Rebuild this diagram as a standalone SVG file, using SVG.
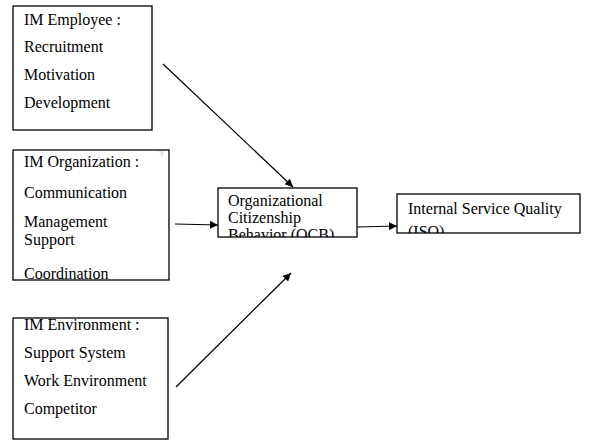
<svg xmlns="http://www.w3.org/2000/svg" width="596" height="441" viewBox="0 0 596 441">
  <style>
    .box { fill: #ffffff; stroke: #000000; stroke-width: 1.3; }
    text { font-family: 'Liberation Serif', 'Times New Roman', 'DejaVu Serif', Times, serif; font-size: 16px; fill: #000000; }
    .edge { stroke: #000000; stroke-width: 1.2; fill: none; marker-end: url(#head); }
  </style>
  <defs>
    <marker id="head" viewBox="0 0 10 10" refX="10" refY="5" markerWidth="8" markerHeight="8" markerUnits="userSpaceOnUse" orient="auto">
      <path d="M0,0 L10,5 L0,10 z" fill="#000000"/>
    </marker>
    <clipPath id="clipOrg"><rect x="13" y="150" width="156" height="129"/></clipPath>
    <clipPath id="clipOcb"><rect x="218" y="188" width="139" height="49"/></clipPath>
    <clipPath id="clipIsq"><rect x="397" y="194" width="183" height="39"/></clipPath>
  </defs>

  <g id="im-employee">
    <rect class="box" x="13" y="6" width="139" height="124"/>
    <text x="24" y="25">IM Employee :</text>
    <text x="24" y="52">Recruitment</text>
    <text x="24" y="80">Motivation</text>
    <text x="24" y="108">Development</text>
  </g>

  <g id="im-organization">
    <rect class="box" x="13" y="150" width="156" height="130"/>
    <g clip-path="url(#clipOrg)">
      <text x="24" y="167">IM Organization :</text>
      <text x="24" y="198">Communication</text>
      <text x="24" y="227">Management</text>
      <text x="24" y="245">Support</text>
      <text x="24" y="279">Coordination</text>
    </g>
    <!-- faint corner mark -->
    <path d="M158,151 L164,151 L163,158 Z" fill="#e6e6e6"/>
  </g>

  <g id="im-environment">
    <rect class="box" x="13" y="318" width="155" height="121"/>
    <text x="24" y="330">IM Environment :</text>
    <text x="24" y="358">Support System</text>
    <text x="24" y="386">Work Environment</text>
    <text x="24" y="414">Competitor</text>
  </g>

  <g id="ocb">
    <rect class="box" x="218" y="188" width="139" height="49"/>
    <g clip-path="url(#clipOcb)">
      <text x="228" y="206">Organizational</text>
      <text x="228" y="223">Citizenship</text>
      <text x="228" y="240">Behavior (OCB)</text>
    </g>
  </g>

  <g id="isq">
    <rect class="box" x="397" y="194" width="183" height="39"/>
    <g clip-path="url(#clipIsq)">
      <text x="408" y="214">Internal Service Quality</text>
      <text x="408" y="237">(ISQ)</text>
    </g>
  </g>

  <g id="connectors">
    <line class="edge" x1="163" y1="64" x2="293" y2="187"/>
    <line class="edge" x1="175" y1="224" x2="218" y2="225"/>
    <line class="edge" x1="176" y1="387" x2="291" y2="273"/>
    <line class="edge" x1="357" y1="227" x2="397" y2="226"/>
  </g>
</svg>
